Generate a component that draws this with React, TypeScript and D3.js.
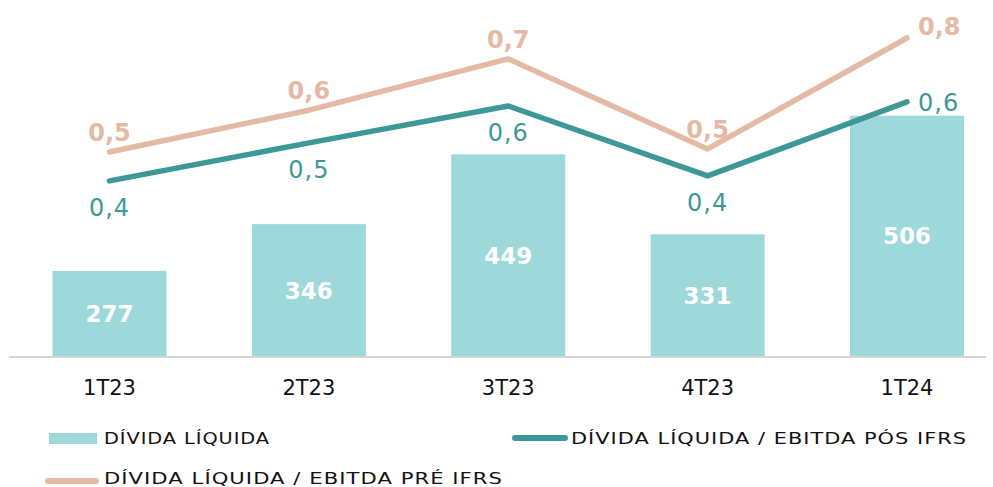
import React from 'react';
import * as d3 from 'd3';

// dados
const categories = ['1T23', '2T23', '3T23', '4T23', '1T24'];
const dividaLiquida = [277, 346, 449, 331, 506];
const ebitdaPosIfrs = [0.424, 0.524, 0.621, 0.437, 0.632];
const ebitdaPreIfrs = [0.5, 0.61, 0.745, 0.508, 0.8];
const legendLabels = ['DÍVIDA LÍQUIDA', 'DÍVIDA LÍQUIDA / EBITDA PÓS IFRS', 'DÍVIDA LÍQUIDA / EBITDA PRÉ IFRS'];

const W = 993;
const H = 487;
const FONT = '"DejaVu Sans", sans-serif';

const BAR = '#9dd8da';
const TEAL = '#3f9898';
const BEIGE = '#e5baa5';

const fmt = (v: number) => d3.format('.1f')(v).replace('.', ',');

export default function App() {
    const x = d3.scalePoint<string>().domain(categories).range([109.5, 907]);
    const barW = 114;
    const yBar = d3.scaleLinear().domain([150, 600]).range([357, 52]);
    const yRatio = d3.scaleLinear().domain([0.3, 0.9]).range([228, 0]);

    const line = d3.line<number>()
        .x((_, i) => x(categories[i]) as number)
        .y(d => yRatio(d));

    const legendText = { fontSize: 16.5, fill: '#111', letterSpacing: 0.8, lengthAdjust: 'spacingAndGlyphs' as const };

    return (
        <svg width={W} height={H} style={{ position: 'absolute', left: 0, top: 0 }} fontFamily={FONT}>
            {/* barras */}
            {dividaLiquida.map((v, i) => {
                const cx = x(categories[i]) as number;
                const top = yBar(v);
                return (
                    <g key={'b' + i}>
                        <rect x={cx - barW / 2} y={top} width={barW} height={yBar(150) - top} fill={BAR} />
                        <text x={cx} y={(top + yBar(150)) / 2 + 8} textAnchor="middle" fill="#fff"
                            fontWeight="bold" fontSize={23}>{v}</text>
                    </g>
                );
            })}

            {/* eixo */}
            <line x1={9} x2={986} y1={357} y2={357} stroke="#d6d6d6" strokeWidth={2} />
            {categories.map(c => (
                <text key={c} x={x(c)} y={395} textAnchor="middle" fill="#111" fontSize={21}>{c}</text>
            ))}

            {/* linhas */}
            <path d={line(ebitdaPreIfrs) || ''} fill="none" stroke={BEIGE} strokeWidth={5.5} strokeLinecap="round" strokeLinejoin="round" />
            <path d={line(ebitdaPosIfrs) || ''} fill="none" stroke={TEAL} strokeWidth={5.5} strokeLinecap="round" strokeLinejoin="round" />

            {ebitdaPreIfrs.map((v, i) => {
                const last = i === categories.length - 1;
                const cx = x(categories[i]) as number;
                return (
                    <text key={'p' + i} x={last ? cx + 11 : cx} y={last ? yRatio(v) - 3 : yRatio(v) - 11}
                        textAnchor={last ? 'start' : 'middle'} fill={BEIGE} fontWeight="bold" fontSize={24}>{fmt(v)}</text>
                );
            })}
            {ebitdaPosIfrs.map((v, i) => {
                const last = i === categories.length - 1;
                const cx = x(categories[i]) as number;
                return (
                    <text key={'t' + i} x={last ? cx + 11 : cx} y={last ? yRatio(v) + 9 : yRatio(v) + 35}
                        textAnchor={last ? 'start' : 'middle'} fill={TEAL} fontSize={24} letterSpacing={1}>{fmt(v)}</text>
                );
            })}

            {/* legenda */}
            <rect x={49} y={433} width={48} height={11} fill={BAR} />
            <text x={104} y={444} textLength={166} {...legendText}>{legendLabels[0]}</text>

            <line x1={515} x2={565} y1={438} y2={438} stroke={TEAL} strokeWidth={6} strokeLinecap="round" />
            <text x={571} y={444} textLength={396} {...legendText}>{legendLabels[1]}</text>

            <line x1={48} x2={96} y1={481} y2={481} stroke={BEIGE} strokeWidth={6} strokeLinecap="round" />
            <text x={104} y={484} textLength={399} {...legendText} fontSize={16}>{legendLabels[2]}</text>
        </svg>
    );
}
